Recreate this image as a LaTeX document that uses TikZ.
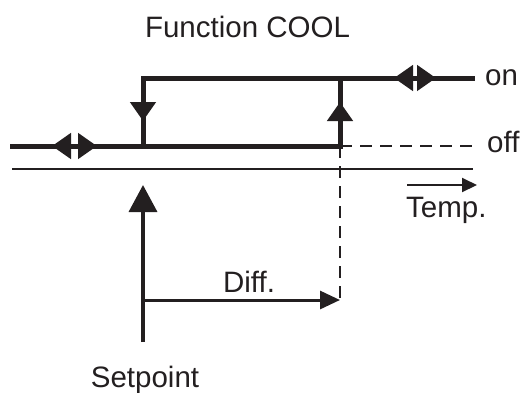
\documentclass[tikz,border=0pt]{standalone}
\usepackage{fontspec}
\setmainfont{Liberation Sans}
\usetikzlibrary{arrows.meta}
\definecolor{encre}{RGB}{35,31,32}
\tikzset{relais/.style={line width=5pt,draw=encre},fin/.style={line width=2pt,draw=encre},pointille/.style={line width=2pt,draw=encre,dash pattern=on 12pt off 8pt},tete/.style={-{Triangle[length=19pt,width=25pt]},encre},lib/.style={font=\fontsize{29.5}{31}\selectfont,text=encre,inner sep=0pt}}

\begin{document}
\begin{tikzpicture}[x=1pt,y=-1pt]
\useasboundingbox (0,0) rectangle (521,392);
% hysteresis loop
\coordinate (gauche) at (10,146);
\coordinate (basA) at (143,146);
\coordinate (basB) at (340,146);
\coordinate (hautA) at (143,78);
\coordinate (hautB) at (340,78);
\coordinate (droite) at (475,78);
\coordinate (finoff) at (473,146);
\draw[relais] (gauche)--(basB)--(hautB)--(droite);
\draw[relais] (basA)--(hautA)--(hautB);
\draw[pointille] (basB)--(finoff);
% arrows on the loop
\coordinate (descente) at (143,100);
\coordinate (descenteB) at (143,121);
\coordinate (montee) at (340,125);
\coordinate (monteeB) at (340,102);
\draw[relais,tete] (descente)--(descenteB);
\draw[relais,tete] (montee)--(monteeB);
\coordinate (offM) at (74.5,146);
\coordinate (offG) at (52,146);
\coordinate (offD) at (97,146);
\draw[relais,tete] (offM)--(offG);
\draw[relais,tete] (offM)--(offD);
\coordinate (onM) at (415,78);
\coordinate (onG) at (394,78);
\coordinate (onD) at (436,78);
\draw[relais,tete] (onM)--(onG);
\draw[relais,tete] (onM)--(onD);
% temperature axis
\coordinate (axeG) at (12,169);
\coordinate (axeD) at (473,169);
\draw[fin] (axeG)--(axeD);
\coordinate (tempG) at (407,185);
\coordinate (tempD) at (477,185);
\draw[fin,-{Triangle[length=15pt,width=14pt]},encre] (tempG)--(tempD);
% setpoint and differential
\coordinate (spBas) at (143,342);
\coordinate (spHaut) at (143,185);
\coordinate (diffA) at (143,300);
\coordinate (diffB) at (340,300);
\draw[line width=3.5pt,draw=encre,-{Triangle[length=27pt,width=28pt]},encre] (spBas)--(spHaut);
\draw[line width=3pt,draw=encre,-{Triangle[length=20pt,width=18pt]},encre] (diffA)--(diffB);
\draw[pointille] (basB)--(diffB);
% labels
\node[lib,anchor=base] (titre) at (247.5,37) {Function COOL};
\node[lib,anchor=base west] (on) at (485,85) {on};
\node[lib,anchor=base west] (off) at (487,152) {off};
\node[lib,anchor=base west] (temp) at (406,217) {Temp.};
\node[lib,anchor=base] (diff) at (249,292) {Diff.};
\node[lib,anchor=base] (setpoint) at (145,387) {Setpoint};
\end{tikzpicture}
\end{document}
